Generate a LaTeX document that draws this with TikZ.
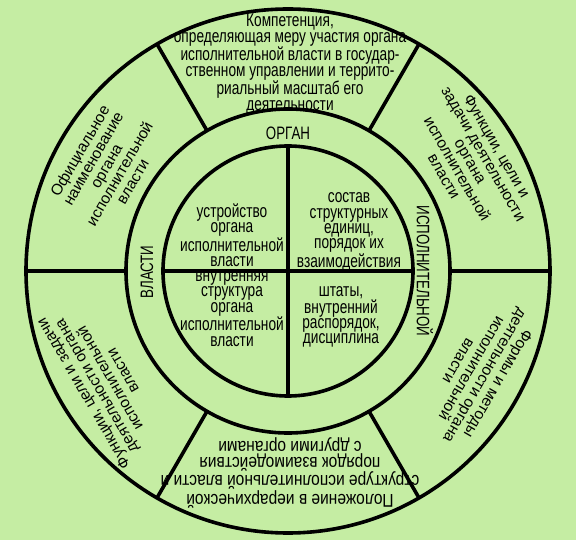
\documentclass[tikz,border=0pt]{standalone}
\usepackage{fontspec}
\setmainfont{Liberation Sans}
\newfontfamily\narrowfont[FakeStretch=0.74]{Liberation Sans}
\newfontfamily\widerfont[FakeStretch=0.84]{Liberation Sans}
\definecolor{bggreen}{RGB}{197,237,163}
\tikzset{
  ring/.style={line width=3.6pt},
  sidetext/.style={align=center, inner sep=0pt, font=\fontsize{15.5}{15.2}\selectfont},
  innertext/.style={align=center, inner sep=0pt, font=\narrowfont\fontsize{18.5}{15.3}\selectfont},
  bottomtext/.style={align=center, inner sep=0pt, font=\widerfont\fontsize{18.5}{15.3}\selectfont},
  ringtext/.style={inner sep=0pt, font=\narrowfont\fontsize{18}{18}\selectfont}
}
\begin{document}
\begin{tikzpicture}[x=1pt, y=1pt]
  \fill [bggreen] (-288, -269) rectangle (288, 271);
  \useasboundingbox (-288, -269) rectangle (288, 271);

  \draw [ring] (0, 0) circle (262pt);
  \draw [ring] (0, 0) circle (162pt);
  \draw [ring] (0, 0) circle (125pt);

  \foreach \a in {0, 60, ..., 300}
    \draw [ring] (\a:162) -- (\a:262);
  \draw [ring] (0, 125) -- (0, -125);
  \draw [ring] (-125, 0) -- (125, 0);

  % ring
  \node [ringtext] (organ) at (0, 138) {ОРГАН};
  \node [ringtext, rotate=-90] (ispoln) at (137, 0) {ИСПОЛНИТЕЛЬНОЙ};
  \node [ringtext, rotate=90] (vlasti) at (-141, -1) {ВЛАСТИ};

  % quadrants
  \node [innertext] (device) at (-56, 36) {устройство\\органа\\исполнительной\\власти};
  \node [innertext] (units) at (61, 39) {состав\\структурных\\единиц,\\порядок их\\взаимодействия};
  \node [innertext] (inner) at (-56, -38) {внутренняя\\структура\\органа\\исполнительной\\власти};
  \node [innertext] (staff) at (53, -46) {штаты,\\внутренний\\распорядок,\\дисциплина};

  % outer segments
  \node [innertext] (compet) at (2, 207) {Компетенция,\\определяющая меру участия органа\\исполнительной власти в государ-\\ственном управлении и террито-\\риальный масштаб его\\деятельности};
  \node [sidetext, rotate=60] (name) at (150:210) {Официальное\\наименование\\органа\\исполнительной\\власти};
  \node [sidetext, rotate=-60] (aims) at (31:213) {Функции, цели и\\задачи деятельности\\органа\\исполнительной\\власти};
  \node [sidetext, rotate=240] (forms) at (-28:216) {Формы и методы\\деятельности органа\\исполнительной\\власти};
  \node [sidetext, rotate=120] (tasks) at (211:216) {Функции, цели и задачи\\деятельности органа\\исполнительной\\власти};
  \node [bottomtext, rotate=180] (place) at (2, -202) {Положение в иерархической\\структуре исполнительной власти и\\порядок взаимодействия\\с другими органами};
\end{tikzpicture}
\end{document}
